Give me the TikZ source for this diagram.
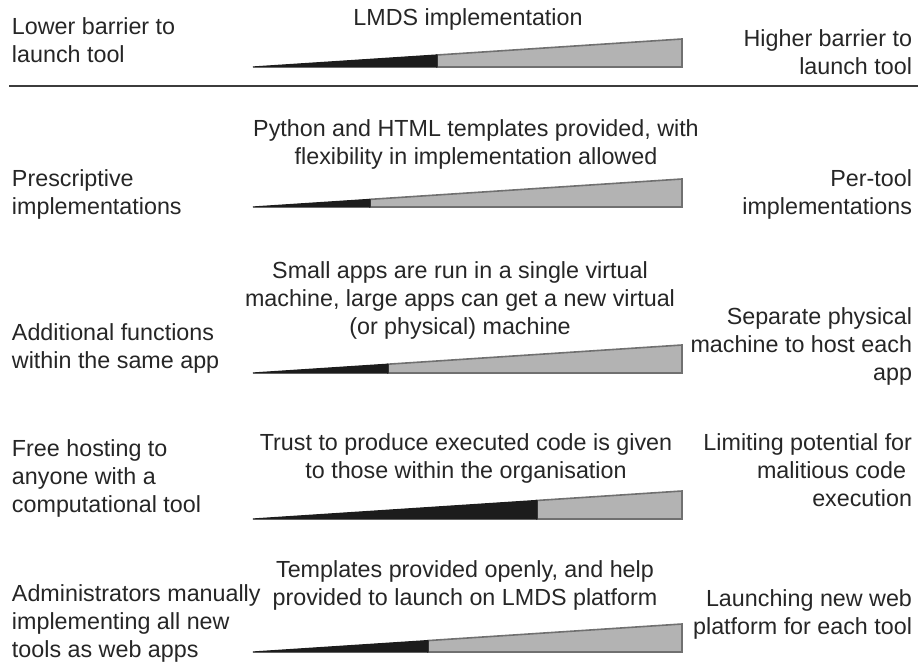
\documentclass[tikz,border=0pt]{standalone}
\usepackage{fontspec}
\setmainfont{Liberation Sans}
\definecolor{txt}{HTML}{262626}
\definecolor{barblack}{HTML}{1C1C1C}
\definecolor{bargray}{HTML}{B3B3B3}
\definecolor{baredge}{HTML}{707070}
\definecolor{rulecol}{HTML}{3C3C3C}
\newcommand{\LeftLines}[1]{\begin{tabular}[t]{@{}l@{}}#1\end{tabular}}
\newcommand{\RightLines}[1]{\begin{tabular}[t]{@{}r@{}}#1\end{tabular}}
\newcommand{\CenterLines}[1]{\begin{tabular}[t]{@{}c@{}}#1\end{tabular}}
\tikzset{
  lbl/.style={inner sep=0pt, outer sep=0pt, text=txt, font=\fontsize{23.3}{28}\selectfont},
  leftlbl/.style={lbl, anchor=base west},
  rightlbl/.style={lbl, anchor=base east},
  midlbl/.style={lbl, anchor=base},
  graypart/.style={fill=bargray, draw=baredge, line width=1.6pt, line join=miter},
  blackpart/.style={fill=barblack, draw=barblack, line width=1.2pt, line join=bevel},
  rulestyle/.style={draw=rulecol, line width=2pt}
}
\newcommand{\WedgeBar}[2]{%
  \pgfmathsetmacro{\wtop}{#1-28*(#2-253)/429}%
  \draw[graypart] (#2,#1) -- (#2,\wtop) -- (682,{#1-28}) -- (682,#1) -- cycle;
  \draw[blackpart] (253,#1) -- (#2,\wtop) -- (#2,#1) -- cycle;
}
\begin{document}
\begin{tikzpicture}[x=1pt,y=-1pt]
\fill[white] (0,0) rectangle (918,663);
\useasboundingbox (0,0) rectangle (918,663);

% Row 1
\node[leftlbl] (l1) at (12,35) {\LeftLines{Lower barrier to\\launch tool}};
\node[midlbl] (c1) at (468,26) {\CenterLines{LMDS implementation}};
\node[rightlbl] (r1) at (912,47) {\RightLines{Higher barrier to\\launch tool}};
\WedgeBar{67}{437}
\coordinate (ruleA) at (9,86);
\coordinate (ruleB) at (918,86);
\draw[rulestyle] (ruleA) -- (ruleB);

% Row 2
\node[leftlbl] (l2) at (12,187) {\LeftLines{Prescriptive\\implementations}};
\node[midlbl] (c2) at (476,137) {\CenterLines{Python and HTML templates provided, with\\flexibility in implementation allowed}};
\node[rightlbl] (r2) at (912,187) {\RightLines{Per-tool\\implementations}};
\WedgeBar{207}{370}

% Row 3
\node[leftlbl] (l3) at (12,340) {\LeftLines{Additional functions\\within the same app}};
\node[midlbl] (c3) at (460,278) {\CenterLines{Small apps are run in a single virtual\\machine, large apps can get a new virtual\\(or physical) machine}};
\node[rightlbl] (r3) at (912,324) {\RightLines{Separate physical\\machine to host each\\app}};
\WedgeBar{373}{388}

% Row 4
\node[leftlbl] (l4) at (12,456) {\LeftLines{Free hosting to\\anyone with a\\computational tool}};
\node[midlbl] (c4) at (466,450) {\CenterLines{Trust to produce executed code is given\\to those within the organisation}};
\node[rightlbl] (r4) at (912,450) {\RightLines{Limiting potential for\\malitious code\hspace*{6pt}\\execution}};
\WedgeBar{519}{537}

% Row 5
\node[leftlbl] (l5) at (12,601) {\LeftLines{Administrators manually\\implementing all new\\tools as web apps}};
\node[midlbl] (c5) at (465,577) {\CenterLines{Templates provided openly, and help\\provided to launch on LMDS platform}};
\node[rightlbl] (r5) at (912,606) {\RightLines{Launching new web\\platform for each tool}};
\WedgeBar{652}{428}
\end{tikzpicture}
\end{document}
